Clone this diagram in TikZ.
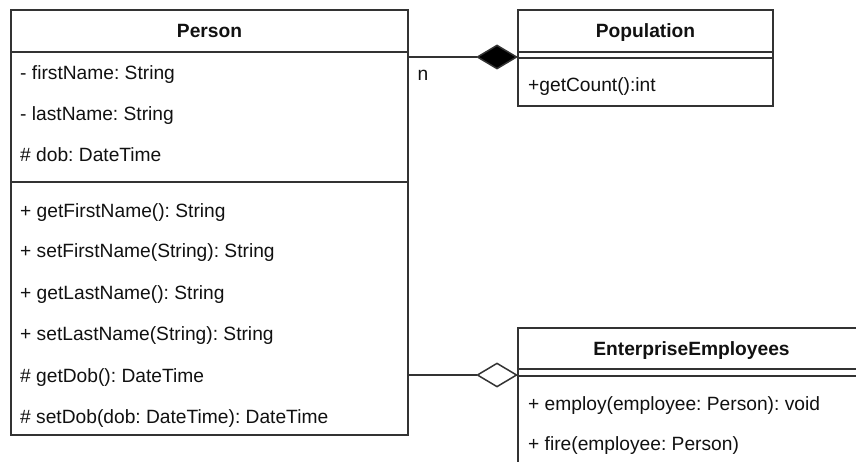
\documentclass[tikz,border=0pt]{standalone}
\usepackage{fontspec}
\setmainfont{Liberation Sans}
\usetikzlibrary{arrows.meta}
\definecolor{edge}{HTML}{333333}
\definecolor{ink}{HTML}{111111}
\frenchspacing
\begin{document}
\begin{tikzpicture}[x=1pt,y=-1pt,
  font=\fontsize{19.2}{22}\selectfont, text=ink,
  classbox/.style={draw=edge, line width=1.6pt, fill=white, inner sep=0pt, outer sep=0pt, anchor=north west},
  member/.style={anchor=base west, inner sep=0pt},
  title/.style={anchor=base, inner sep=0pt, font=\fontsize{19.2}{22}\selectfont\bfseries},
  sep/.style={draw=edge, line width=1.6pt},
  link/.style={draw=edge, line width=1.5pt}]
\useasboundingbox (0,0) rectangle (856,462);

% Person class
\node[classbox, minimum width=397pt, minimum height=425pt] (person) at (11,10) {};
\draw[sep] ([yshift=-42pt]person.north west) -- ([yshift=-42pt]person.north east);
\draw[sep] ([yshift=-172pt]person.north west) -- ([yshift=-172pt]person.north east);
\node[title] (pname) at (209.5,38) {Person};
\node[member] (a1) at (20,80)  {- firstName: String};
\node[member] (a2) at (20,121) {- lastName: String};
\node[member] (a3) at (20,162) {\# dob: DateTime};
\node[member] (m1) at (20,218) {+ getFirstName(): String};
\node[member] (m2) at (20,258) {+ setFirstName(String): String};
\node[member] (m3) at (20,299) {+ getLastName(): String};
\node[member] (m4) at (20,340) {+ setLastName(String): String};
\node[member] (m5) at (20,382) {\# getDob(): DateTime};
\node[member] (m6) at (20,423) {\# setDob(dob: DateTime): DateTime};

% Population class
\node[classbox, minimum width=255pt, minimum height=96pt] (pop) at (518,10) {};
\draw[sep] ([yshift=-42pt]pop.north west) -- ([yshift=-42pt]pop.north east);
\draw[sep] ([yshift=-48pt]pop.north west) -- ([yshift=-48pt]pop.north east);
\node[title] (popname) at (645.5,38) {Population};
\node[member] (p1) at (528,92) {+getCount():int};

% EnterpriseEmployees class (runs past the right and bottom edges)
\node[classbox, minimum width=348pt, minimum height=160pt] (ee) at (518,328) {};
\draw[sep] ([yshift=-41pt]ee.north west) -- ([yshift=-41pt]ee.north east);
\draw[sep] ([yshift=-48pt]ee.north west) -- ([yshift=-48pt]ee.north east);
\node[title] (eename) at (691.5,355) {EnterpriseEmployees};
\node[member] (e1) at (528,410) {+ employ(employee: Person): void};
\node[member] (e2) at (528,450) {+ fire(employee: Person)};

% Associations
\coordinate (popjoin) at ([yshift=-47pt]pop.north west);
\coordinate (eejoin) at ([yshift=-47pt]ee.north west);
\draw[link, -{Diamond[length=42pt,width=25pt,fill=black]}] (person.east |- popjoin) -- (popjoin);
\draw[link, -{Diamond[length=42pt,width=25pt,open,fill=white]}] (person.east |- eejoin) -- (eejoin);
\node[anchor=base, inner sep=0pt] (mult) at (423,81) {n};
\end{tikzpicture}
\end{document}
